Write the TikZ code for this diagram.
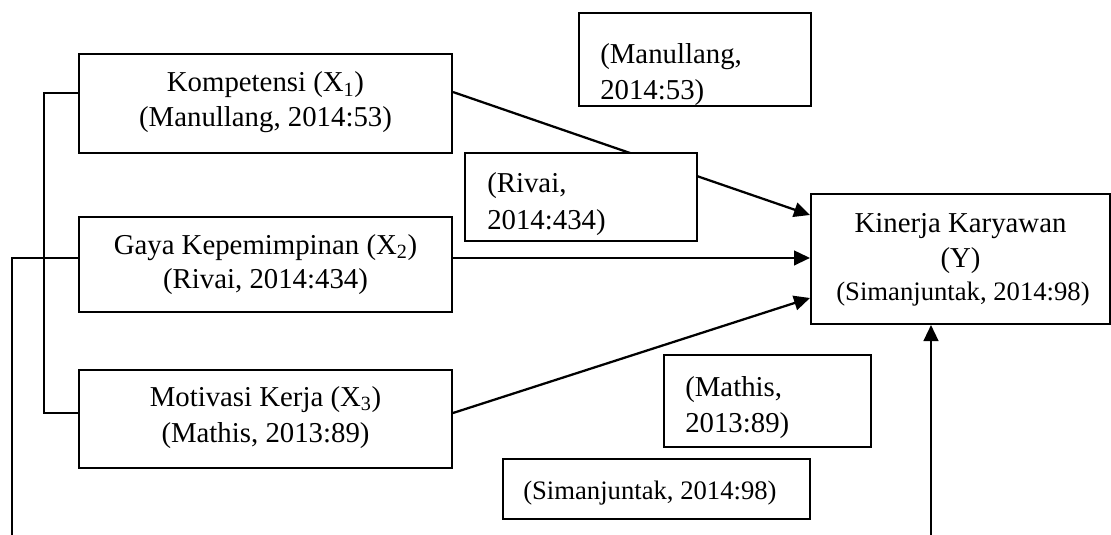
\documentclass[tikz,border=0pt]{standalone}
\usepackage{fontspec}
\setmainfont{Liberation Serif}
\usetikzlibrary{arrows.meta,fit}
\begin{document}
\begin{tikzpicture}[x=0.75pt,y=-0.75pt,
  box/.style={draw,line width=1.5pt,fill=white,inner sep=0pt},
  txt/.style={inner sep=0pt,font=\fontsize{21.6}{27}\selectfont},
  stxt/.style={inner sep=0pt,font=\fontsize{20}{27}\selectfont},
  ctxt/.style={txt,anchor=base},
  ltxt/.style={txt,anchor=base west},
  conn/.style={line width=1.7pt},
  arr/.style={conn,-{Triangle[length=12pt,width=11pt]}}]
\useasboundingbox (0,0) rectangle (1111,535);
% main boxes
\node[box,fit={(79,54) (452,153)}] (x1) {};
\node[box,fit={(79,217) (452,312)}] (x2) {};
\node[box,fit={(79,370) (452,468)}] (x3) {};
\node[box,fit={(811,194) (1110,324)}] (y) {};
% arrows
\draw[arr] ([yshift=8.6pt]x1.east) -- ([yshift=33pt]y.west);
\draw[arr] ([yshift=4.9pt]x2.east) -- ([yshift=4.9pt]x2.east -| y.west);
\draw[arr] ([yshift=4.5pt]x3.east) -- ([yshift=-29.25pt]y.west);
\coordinate (bot) at (931,535);
\draw[arr] (bot) -- (bot |- y.south);
% left connectors
\coordinate (lb) at (44,0);
\coordinate (ob) at (12,535);
\draw[conn] ([yshift=7.9pt]x1.west) -- ([yshift=7.9pt]x1.west -| lb)
  -- ([yshift=4.5pt]x3.west -| lb) -- ([yshift=4.5pt]x3.west);
\draw[conn] ([yshift=4.9pt]x2.west) -- ([yshift=4.9pt]x2.west -| ob) -- (ob);
% citation boxes
\node[box,fit={(579,13) (811,106)}] (cm) {};
\node[box,fit={(465,153) (697,241)}] (cr) {};
\node[box,fit={(664,355) (871,447)}] (cma) {};
\node[box,fit={(503,459) (810,519)}] (cs) {};
% texts of main boxes
\node[ctxt] (x1a) at (265.5,92) {Kompetensi (X\textsubscript{1})};
\node[ctxt] (x1b) at (265.5,127) {(Manullang, 2014:53)};
\node[ctxt] (x2a) at (265.5,254) {Gaya Kepemimpinan (X\textsubscript{2})};
\node[ctxt] (x2b) at (265.5,288) {(Rivai, 2014:434)};
\node[ctxt] (x3a) at (265.5,406) {Motivasi Kerja (X\textsubscript{3})};
\node[ctxt] (x3b) at (265.5,442) {(Mathis, 2013:89)};
\node[ctxt] (ya) at (960.5,232) {Kinerja Karyawan};
\node[ctxt] (yb) at (960.5,267) {(Y)};
\node[stxt,anchor=base] (yc) at (963,300) {(Simanjuntak, 2014:98)};
% texts of citation boxes
\node[ltxt] (cma1) at (600,64) {(Manullang,};
\node[ltxt] (cma2) at (600,100) {2014:53)};
\node[ltxt] (cr1) at (487,192) {(Rivai,};
\node[ltxt] (cr2) at (487,229) {2014:434)};
\node[ltxt] (cmt1) at (685,396) {(Mathis,};
\node[ltxt] (cmt2) at (685,432) {2013:89)};
\node[stxt,anchor=base west] (cs1) at (523,499) {(Simanjuntak, 2014:98)};
\end{tikzpicture}
\end{document}
